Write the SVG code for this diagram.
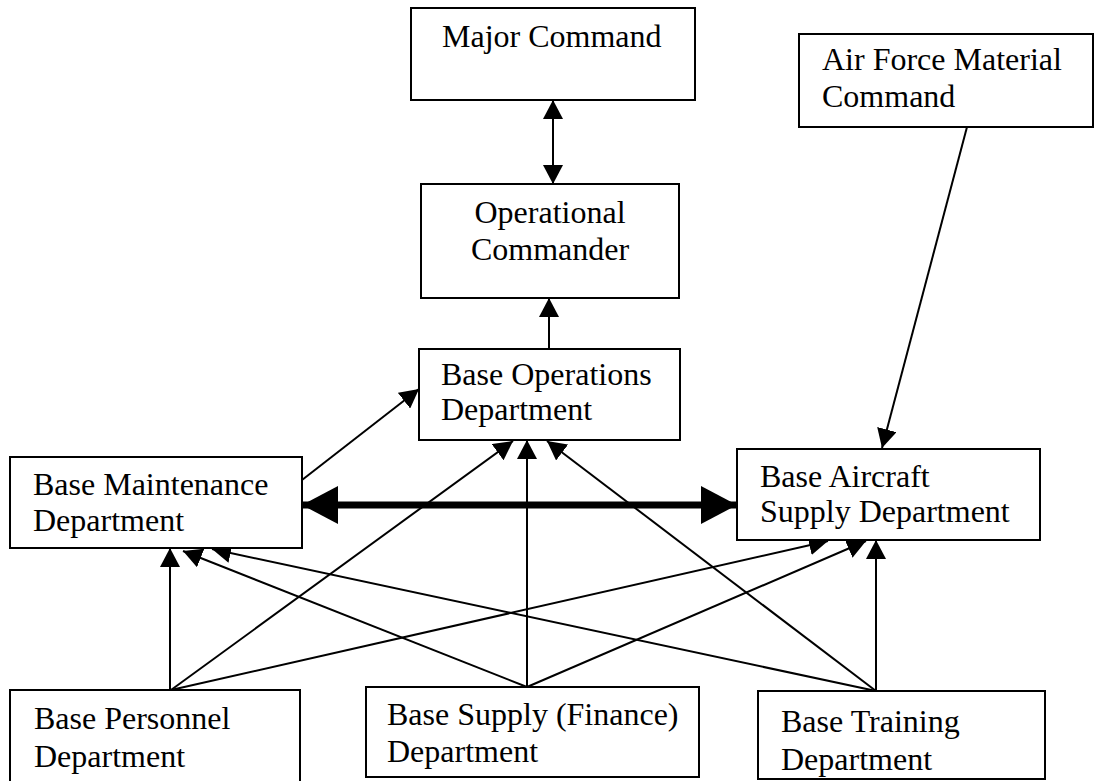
<svg xmlns="http://www.w3.org/2000/svg" width="1110" height="781" viewBox="0 0 1110 781">
  <style>
    .box { fill: #ffffff; stroke: #000000; stroke-width: 2; }
    .lbl { font-family: "Liberation Serif", "Times New Roman", serif; font-size: 32px; fill: #000000; }
    .mid { text-anchor: middle; }
    .ln { fill: none; stroke: #000000; stroke-width: 2; }
    .thick { fill: none; stroke: #000000; stroke-width: 7; }
  </style>
  <defs>
    <!-- thin arrowhead, tip at the end of the line -->
    <marker id="ah" markerUnits="userSpaceOnUse" viewBox="0 0 19 20" refX="19" refY="10" markerWidth="19" markerHeight="20" orient="auto-start-reverse">
      <path d="M0,0 L19,10 L0,20 Z" fill="#000000"/>
    </marker>
    <!-- heavy arrowhead for the two-way link between maintenance and aircraft supply -->
    <marker id="ahBig" markerUnits="userSpaceOnUse" viewBox="0 0 36 38" refX="36" refY="19" markerWidth="36" markerHeight="38" orient="auto-start-reverse">
      <path d="M0,0 L36,19 L0,38 Z" fill="#000000"/>
    </marker>
  </defs>
  <rect width="1110" height="781" fill="#ffffff"/>

  <g id="connectors">
    <line class="ln" x1="553" y1="100" x2="553" y2="184" marker-start="url(#ah)" marker-end="url(#ah)"/>
    <line class="ln" x1="549" y1="349" x2="549" y2="298" marker-end="url(#ah)"/>
    <line class="ln" x1="967" y1="127" x2="882" y2="448" marker-end="url(#ah)"/>
    <line class="ln" x1="302" y1="480" x2="419" y2="389" marker-end="url(#ah)"/>
    <line class="thick" x1="302" y1="505" x2="737" y2="505" marker-start="url(#ahBig)" marker-end="url(#ahBig)"/>
    <!-- from Base Personnel -->
    <line class="ln" x1="170" y1="690" x2="170" y2="548" marker-end="url(#ah)"/>
    <line class="ln" x1="171" y1="690" x2="513" y2="441" marker-end="url(#ah)"/>
    <line class="ln" x1="171" y1="690" x2="828" y2="541" marker-end="url(#ah)"/>
    <!-- from Base Supply (Finance) -->
    <line class="ln" x1="527" y1="687" x2="183" y2="551" marker-end="url(#ah)"/>
    <line class="ln" x1="527" y1="687" x2="527" y2="440" marker-end="url(#ah)"/>
    <line class="ln" x1="527" y1="687" x2="866" y2="541" marker-end="url(#ah)"/>
    <!-- from Base Training -->
    <line class="ln" x1="876" y1="691" x2="212" y2="549" marker-end="url(#ah)"/>
    <line class="ln" x1="876" y1="691" x2="547" y2="441" marker-end="url(#ah)"/>
    <line class="ln" x1="876" y1="691" x2="876" y2="540" marker-end="url(#ah)"/>
  </g>

  <g id="major-command">
    <rect class="box" x="411" y="8" width="284" height="92"/>
    <text class="lbl" x="442" y="47">Major Command</text>
  </g>
  <g id="afmc">
    <rect class="box" x="799" y="34" width="294" height="93"/>
    <text class="lbl" x="822" y="70">Air Force Material</text>
    <text class="lbl" x="822" y="107">Command</text>
  </g>
  <g id="operational-commander">
    <rect class="box" x="421" y="184" width="258" height="114"/>
    <text class="lbl mid" x="550" y="223">Operational</text>
    <text class="lbl mid" x="550" y="260">Commander</text>
  </g>
  <g id="base-operations">
    <rect class="box" x="419" y="349" width="261" height="91"/>
    <text class="lbl" x="441" y="385">Base Operations</text>
    <text class="lbl" x="441" y="420">Department</text>
  </g>
  <g id="base-maintenance">
    <rect class="box" x="10" y="457" width="292" height="91"/>
    <text class="lbl" x="33" y="495">Base Maintenance</text>
    <text class="lbl" x="33" y="531">Department</text>
  </g>
  <g id="base-aircraft-supply">
    <rect class="box" x="737" y="449" width="303" height="91"/>
    <text class="lbl" x="760" y="487">Base Aircraft</text>
    <text class="lbl" x="760" y="522">Supply Department</text>
  </g>
  <g id="base-personnel">
    <rect class="box" x="10" y="690" width="290" height="100"/>
    <text class="lbl" x="34" y="729">Base Personnel</text>
    <text class="lbl" x="34" y="767">Department</text>
  </g>
  <g id="base-supply">
    <rect class="box" x="366" y="687" width="333" height="90"/>
    <text class="lbl" x="387" y="725">Base Supply (Finance)</text>
    <text class="lbl" x="387" y="762">Department</text>
  </g>
  <g id="base-training">
    <rect class="box" x="758" y="691" width="287" height="88"/>
    <text class="lbl" x="781" y="732">Base Training</text>
    <text class="lbl" x="781" y="770">Department</text>
  </g>
</svg>
